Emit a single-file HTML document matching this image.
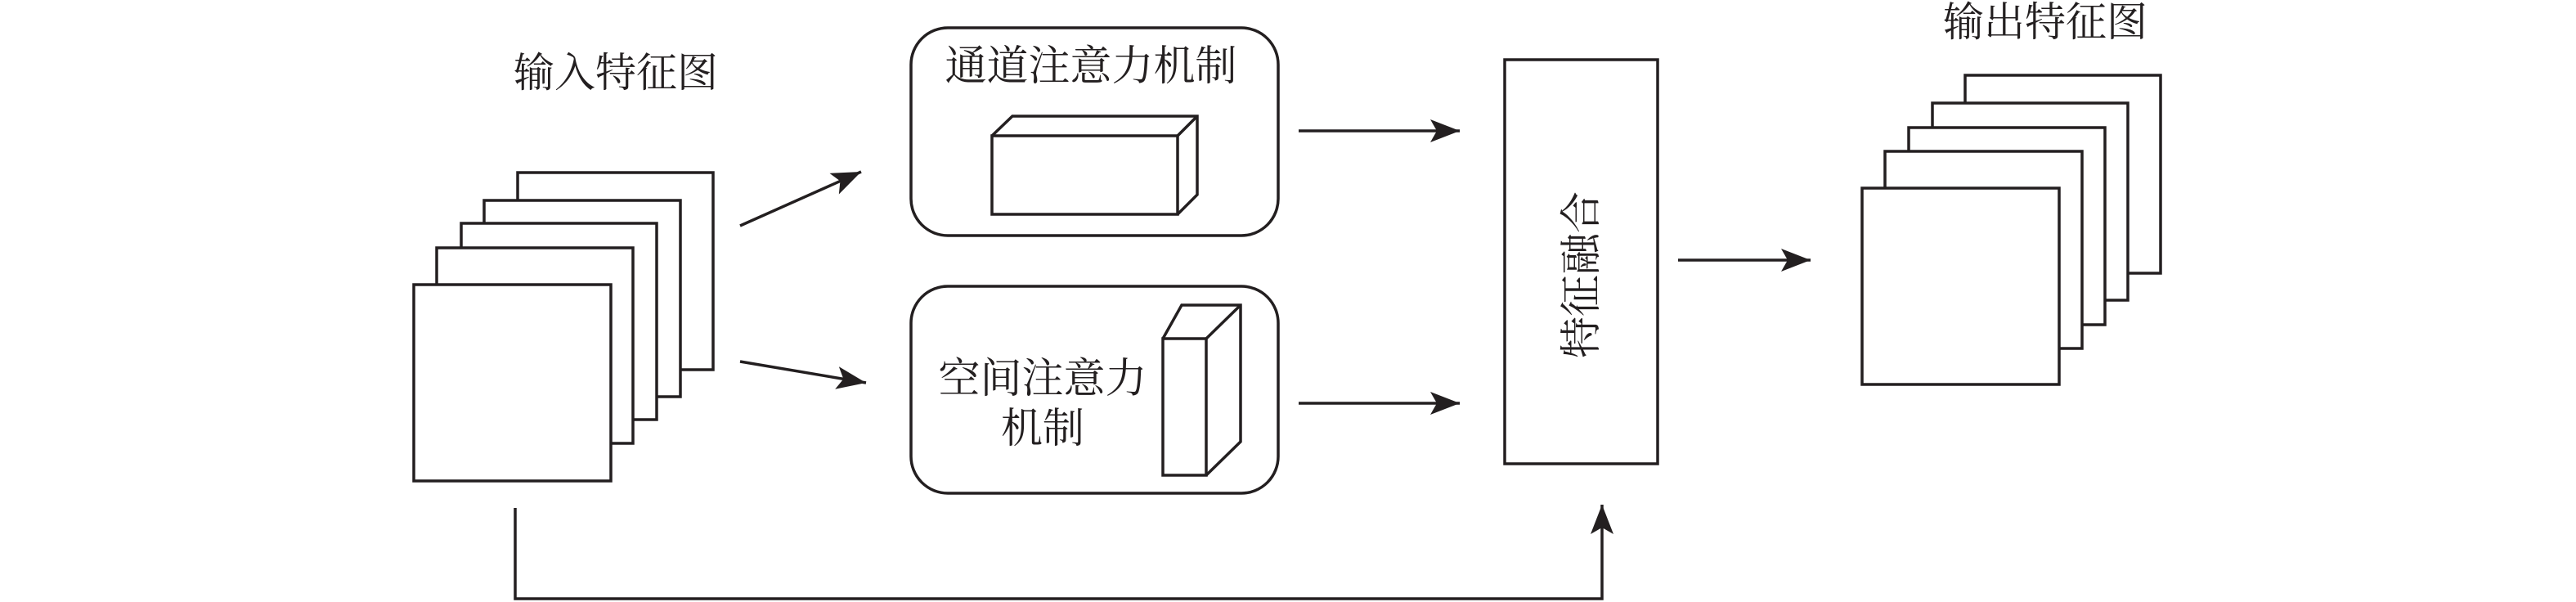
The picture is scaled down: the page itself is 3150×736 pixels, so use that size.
<!DOCTYPE html>
<html><head><meta charset="utf-8"><style>
html,body{margin:0;padding:0;background:#fff;}
svg{display:block;}
text{font-family:"Liberation Serif","Noto Serif CJK SC",serif;fill:#231f20;}
</style></head><body>
<svg width="3150" height="736" viewBox="0 0 3150 736" xmlns="http://www.w3.org/2000/svg">
<defs>
<marker id="ah" markerUnits="userSpaceOnUse" markerWidth="40" markerHeight="30" refX="36" refY="14" orient="auto">
<path d="M0,0 L36,14 L0,28 L8,14 Z" fill="#231f20"/>
</marker>
</defs>
<g fill="#fff" stroke="#231f20" stroke-width="3.5">
<!-- input stack -->
<rect x="633" y="211" width="239" height="241"/>
<rect x="592" y="245" width="240" height="240"/>
<rect x="564" y="273" width="239" height="240"/>
<rect x="534" y="303" width="240" height="239"/>
<rect x="506" y="348" width="241" height="240"/>
<!-- channel box -->
<rect x="1114" y="34" width="449" height="254" rx="45"/>
<path d="M1213,166 L1238,142 L1464,142 L1464,238 L1440,262"/>
<rect x="1213" y="166" width="227" height="96"/>
<path d="M1440,166 L1464,142"/>
<!-- spatial box -->
<rect x="1114" y="350" width="449" height="253" rx="45"/>
<path d="M1422,414 L1445,373 L1517,373 L1517,540 L1475,581"/>
<rect x="1422" y="414" width="53" height="167"/>
<path d="M1475,414 L1517,373"/>
<!-- fusion -->
<rect x="1840" y="73" width="187" height="494"/>
<!-- output stack -->
<rect x="2403" y="92" width="239" height="242"/>
<rect x="2363" y="126" width="239" height="241"/>
<rect x="2334" y="156" width="240" height="241"/>
<rect x="2305" y="185" width="241" height="241"/>
<rect x="2277" y="230" width="241" height="240"/>
</g>
<g stroke="#231f20" stroke-width="3.5" fill="none" marker-end="url(#ah)">
<line x1="905" y1="276" x2="1053" y2="210"/>
<line x1="905" y1="442" x2="1059" y2="468"/>
<line x1="1588" y1="160" x2="1785" y2="160"/>
<line x1="1588" y1="493" x2="1785" y2="493"/>
<line x1="2052" y1="318" x2="2214" y2="318"/>
<path d="M630,621 L630,732 L1959,732 L1959,617"/>
</g>
<text x="753" y="106" font-size="50" text-anchor="middle">输入特征图</text>
<text x="1334" y="98" font-size="51" text-anchor="middle">通道注意力机制</text>
<text x="1275" y="480" font-size="51" text-anchor="middle">空间注意力</text>
<text x="1275" y="541" font-size="51" text-anchor="middle">机制</text>
<text x="2501" y="44" font-size="50" text-anchor="middle">输出特征图</text>
<text x="0" y="0" font-size="51" text-anchor="middle" transform="translate(1951,336) rotate(-90)">特征融合</text>
</svg>
</body></html>
